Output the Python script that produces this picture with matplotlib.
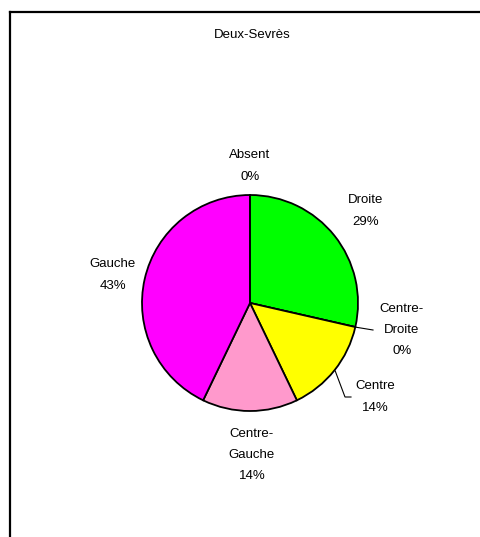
import numpy as np
import matplotlib.pyplot as plt

plt.rcParams['font.family'] = ['Liberation Sans', 'DejaVu Sans']

# data
categories = ['Droite', 'Centre-Droite', 'Centre', 'Centre-Gauche', 'Gauche', 'Absent']
values = [2, 0, 1, 1, 3, 0]
colors = ['#00FF00', '#FFFFFF', '#FFFF00', '#FF99CC', '#FF00FF', '#FFFFFF']
label_text = ['Droite', 'Centre-\nDroite', 'Centre', 'Centre-\nGauche', 'Gauche', 'Absent']
title = 'Deux-Sevrès'

W, H = 481, 537
fig = plt.figure(figsize=(W / 100, H / 100), dpi=100)
ax = fig.add_axes([0, 0, 1, 1])

cx, cy, r = 250, H - 303, 108
wedges, _ = ax.pie(values, colors=colors, startangle=90, counterclock=False,
                   center=(cx, cy), radius=r, frame=True,
                   wedgeprops=dict(edgecolor='black', linewidth=1.3))
ax.set_xlim(0, W)
ax.set_ylim(0, H)
ax.set_aspect('equal')
ax.axis('off')

total = sum(values)
pct = [f'{round(100 * v / total)}%' for v in values]

# label centres (pixels from top-left)
label_pos = {
    'Droite': (366, 211),
    'Centre-Droite': (402, 330),
    'Centre': (375, 397),
    'Centre-Gauche': (252, 455),
    'Gauche': (113, 275),
    'Absent': (250, 166),
}
for cat, txt, p in zip(categories, label_text, pct):
    x, y = label_pos[cat]
    ax.text(x, H - y, txt + '\n' + p, ha='center', va='center',
            fontsize=9.5, linespacing=2.05, color='black')

# leader lines for the small slices
def edge_point(theta_deg, rad=r):
    t = np.radians(theta_deg)
    return cx + rad * np.cos(t), cy + rad * np.sin(t)

w_cd = wedges[1]
x0, y0 = edge_point(w_cd.theta1, r + 1)
ax.plot([x0, 373], [y0, H - 330], color='black', lw=0.8)

w_c = wedges[2]
x0, y0 = edge_point((w_c.theta1 + w_c.theta2) / 2, r + 1)
ax.plot([x0, 345, 351], [y0, H - 397, H - 397], color='black', lw=0.8)

ax.text(252, H - 35, title, ha='center', va='center', fontsize=9.5)

# chart frame (top and left edges visible)
ax.plot([10, W], [H - 12, H - 12], color='black', lw=1.6, clip_on=False)
ax.plot([10, 10], [H - 12, 0], color='black', lw=1.6, clip_on=False)

fig.savefig('out.png', dpi=100)
